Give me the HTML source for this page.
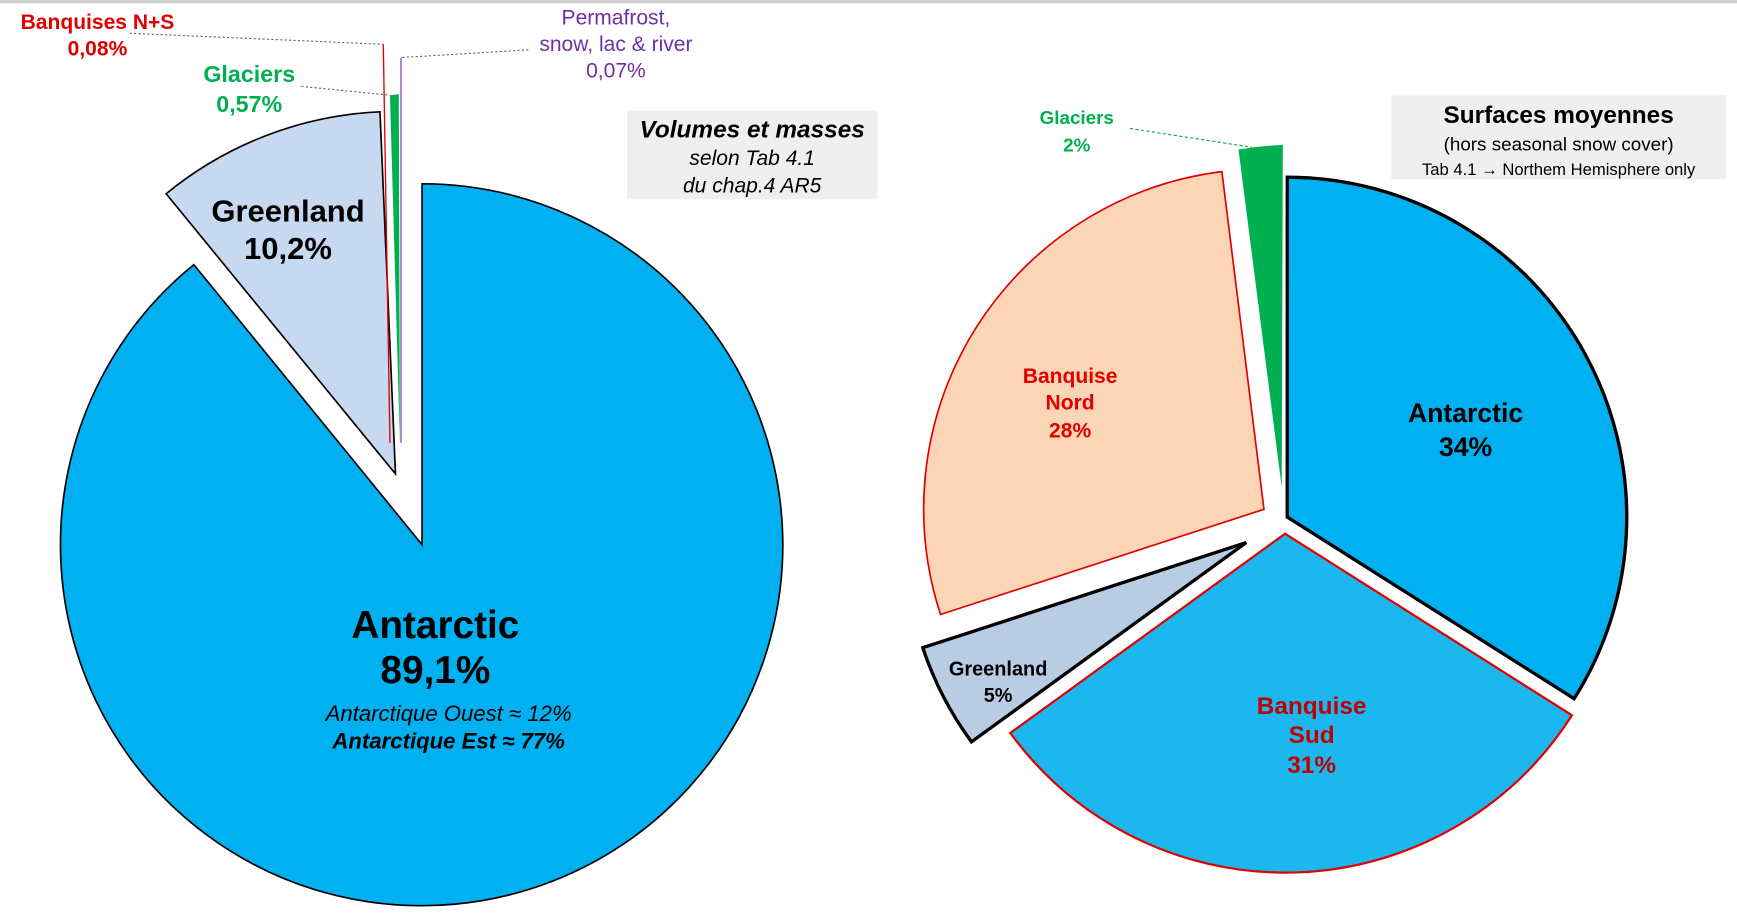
<!DOCTYPE html>
<html><head><meta charset="utf-8"><style>html,body{margin:0;padding:0;background:#fff;overflow:hidden}svg{display:block}text{font-family:"Liberation Sans",Arial,sans-serif}</style></head>
<body>
<svg width="1737" height="919" viewBox="0 0 1568 830" preserveAspectRatio="none" xmlns="http://www.w3.org/2000/svg">
<rect x="0" y="0" width="1568" height="830" fill="#fff"/>
<rect x="0" y="0" width="1568" height="3" fill="#d0d0d0"/>
<!-- Left pie -->
<path d="M381,492 L381,166 A326,326 0 1 1 175,239 Z" fill="#00b0f0" stroke="#000" stroke-width="1.5"/>
<path d="M357,428 L150,175 A327,327 0 0 1 343,101 Z" fill="#c6d9f1" stroke="#000" stroke-width="1.5"/>
<polygon points="352,86 360,85 361,400" fill="#00b050"/>
<line x1="346" y1="40" x2="352" y2="400" stroke="#e00000" stroke-width="1.2"/>
<line x1="362" y1="52" x2="362" y2="400" stroke="#7030a0" stroke-width="1"/>
<g stroke="#666" stroke-width="1" stroke-dasharray="2,2" fill="none">
<polyline points="117,30 346,40"/>
<polyline points="272,78 352,86"/>
<polyline points="477,45 362,52"/>
</g>
<text x="88" y="26" font-size="19" font-weight="bold" fill="#e00000" text-anchor="middle">Banquises N+S</text>
<text x="88" y="50" font-size="19" font-weight="bold" fill="#e00000" text-anchor="middle">0,08%</text>
<text x="225" y="74" font-size="21" font-weight="bold" fill="#00b050" text-anchor="middle">Glaciers</text>
<text x="225" y="101" font-size="21" font-weight="bold" fill="#00b050" text-anchor="middle">0,57%</text>
<text x="556" y="22" font-size="19" fill="#7030a0" text-anchor="middle">Permafrost,</text>
<text x="556" y="46" font-size="19" fill="#7030a0" text-anchor="middle">snow, lac &amp; river</text>
<text x="556" y="70" font-size="19" fill="#7030a0" text-anchor="middle">0,07%</text>
<rect x="566" y="100" width="226" height="80" fill="#efefef"/>
<text x="679" y="124" font-size="22" font-weight="bold" font-style="italic" text-anchor="middle">Volumes et masses</text>
<text x="679" y="149" font-size="19" font-style="italic" text-anchor="middle">selon Tab 4.1</text>
<text x="679" y="174" font-size="19" font-style="italic" text-anchor="middle">du chap.4   AR5</text>
<text x="260" y="200" font-size="28" font-weight="bold" text-anchor="middle">Greenland</text>
<text x="260" y="234" font-size="28" font-weight="bold" text-anchor="middle">10,2%</text>
<text x="393" y="576" font-size="35" font-weight="bold" text-anchor="middle">Antarctic</text>
<text x="393" y="617" font-size="35" font-weight="bold" text-anchor="middle">89,1%</text>
<text x="405" y="651" font-size="20" font-style="italic" text-anchor="middle">Antarctique Ouest  ≈ 12%</text>
<text x="405" y="676" font-size="20" font-style="italic" font-weight="bold" text-anchor="middle">Antarctique Est  ≈ 77%</text>
<!-- Right pie -->
<path d="M1162,467 L1162,160 A307,307 0 0 1 1421,631 Z" fill="#00b0f0" stroke="#000" stroke-width="3"/>
<path d="M1160,482 L1419,646 A307,307 0 0 1 912,662 Z" fill="#1bb7ee" stroke="#e00000" stroke-width="2"/>
<path d="M1125,490 L877,670 A307,307 0 0 1 833,585 Z" fill="#b8cce4" stroke="#000" stroke-width="3"/>
<path d="M1141,460 L849,555 A307,307 0 0 1 1103,155 Z" fill="#fbd5b5" stroke="#e00000" stroke-width="1.5"/>
<path d="M1157,440 L1118,135 A307,307 0 0 1 1158,131 Z" fill="#00b050"/>
<line x1="1020" y1="116" x2="1130" y2="133" stroke="#00b050" stroke-width="1" stroke-dasharray="3,2"/>
<text x="972" y="112" font-size="17" font-weight="bold" fill="#00b050" text-anchor="middle">Glaciers</text>
<text x="972" y="137" font-size="17" font-weight="bold" fill="#00b050" text-anchor="middle">2%</text>
<rect x="1256" y="86" width="302" height="76" fill="#efefef"/>
<text x="1407" y="111" font-size="22" font-weight="bold" text-anchor="middle">Surfaces moyennes</text>
<text x="1407" y="136" font-size="17" text-anchor="middle">(hors seasonal snow cover)</text>
<text x="1407" y="158" font-size="15" text-anchor="middle">Tab 4.1 → Northem Hemisphere only</text>
<text x="966" y="346" font-size="19" font-weight="bold" fill="#e00000" text-anchor="middle">Banquise</text>
<text x="966" y="370" font-size="19" font-weight="bold" fill="#e00000" text-anchor="middle">Nord</text>
<text x="966" y="395" font-size="19" font-weight="bold" fill="#e00000" text-anchor="middle">28%</text>
<text x="1323" y="381" font-size="24" font-weight="bold" text-anchor="middle">Antarctic</text>
<text x="1323" y="412" font-size="24" font-weight="bold" text-anchor="middle">34%</text>
<text x="1184" y="645" font-size="22" font-weight="bold" fill="#c00000" text-anchor="middle">Banquise</text>
<text x="1184" y="671" font-size="22" font-weight="bold" fill="#c00000" text-anchor="middle">Sud</text>
<text x="1184" y="698" font-size="22" font-weight="bold" fill="#c00000" text-anchor="middle">31%</text>
<text x="901" y="610" font-size="18" font-weight="bold" text-anchor="middle">Greenland</text>
<text x="901" y="634" font-size="18" font-weight="bold" text-anchor="middle">5%</text>
</svg>
</body></html>
